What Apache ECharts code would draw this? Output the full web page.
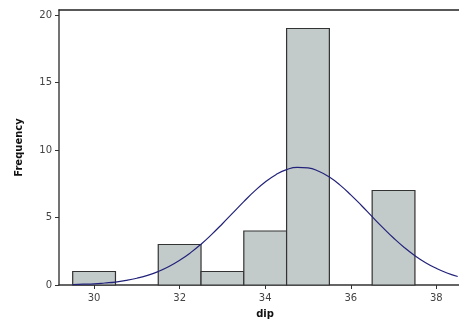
<!DOCTYPE html>
<html>
<head>
<meta charset="utf-8">
<script src="https://cdn.jsdelivr.net/npm/echarts@6/dist/echarts.min.js"></script>
<style>
  html, body { margin: 0; padding: 0; background: #fff; }
  #chart { width: 459px; height: 324px; }
</style>
</head>
<body>
<div id="chart"></div>
<script>
// 直方图：每个箱的中心和频数
let binCenters = [30, 31, 32, 33, 34, 35, 36, 37];
let binCounts = [1, 0, 3, 1, 4, 19, 0, 7];

// 拟合曲线（从图上读出的点）
let curveX = [29.5, 29.75, 30, 30.25, 30.5, 30.75, 31, 31.25, 31.5, 31.75, 32, 32.25, 32.5, 32.75,
  33, 33.25, 33.5, 33.75, 34, 34.25, 34.5, 34.75, 35, 35.25, 35.5, 35.75, 36, 36.25, 36.5, 36.75,
  37, 37.25, 37.5, 37.75, 38, 38.25, 38.5];
let curveY = [0.03, 0.06, 0.09, 0.15, 0.22, 0.34, 0.50, 0.71, 1.00, 1.37, 1.83, 2.38, 3.02, 3.75,
  4.54, 5.36, 6.18, 6.95, 7.63, 8.17, 8.55, 8.72, 8.68, 8.43, 8.00, 7.40, 6.68, 5.89, 5.06, 4.25,
  3.48, 2.78, 2.17, 1.65, 1.23, 0.89, 0.63];

let xTicks = [30, 32, 34, 36, 38];
let yTicks = [0, 5, 10, 15, 20];

let chart = echarts.init(document.getElementById('chart'));

let barData = binCenters.map((c, i) => [c, binCounts[i]]).filter(d => d[1] > 0);
let lineData = curveX.map((x, i) => [x, curveY[i]]);

let labelFont = { fontFamily: 'DejaVu Sans', fontSize: 10, color: '#444' };

chart.setOption({
  animation: false,
  grid: { left: 59, right: 0, top: 10, bottom: 39 },
  xAxis: [
    {
      type: 'value',
      min: 29.18,
      max: 38.53,
      name: 'dip',
      nameLocation: 'middle',
      nameGap: 24,
      nameTextStyle: { fontFamily: 'DejaVu Sans', fontWeight: 'bold', fontSize: 10, color: '#111', padding: [0, 0, 0, 12] },
      axisLine: { show: true, lineStyle: { color: '#333', width: 1.5 } },
      axisTick: { show: true, customValues: xTicks, length: 4, lineStyle: { color: '#333' } },
      axisLabel: Object.assign({ customValues: xTicks, margin: 8 }, labelFont),
      splitLine: { show: false }
    },
    {
      type: 'value',
      position: 'top',
      min: 29.18,
      max: 38.53,
      axisLine: { show: true, lineStyle: { color: '#222', width: 1.5 } },
      axisTick: { show: false },
      axisLabel: { show: false },
      splitLine: { show: false }
    }
  ],
  yAxis: {
    type: 'value',
    min: 0,
    max: 20.37,
    name: 'Frequency',
    nameLocation: 'middle',
    nameGap: 35,
    nameTextStyle: { fontFamily: 'DejaVu Sans', fontWeight: 'bold', fontSize: 10, color: '#111' },
    axisLine: { show: true, lineStyle: { color: '#444', width: 1.5 } },
    axisTick: { show: true, customValues: yTicks, length: 4, lineStyle: { color: '#333' } },
    axisLabel: Object.assign({ customValues: yTicks, margin: 7 }, labelFont),
    splitLine: { show: false }
  },
  series: [
    {
      type: 'custom',
      xAxisIndex: 0,
      data: barData,
      renderItem: function (params, api) {
        let c = api.value(0);
        let v = api.value(1);
        let p0 = api.coord([c - 0.5, v]);
        let p1 = api.coord([c + 0.5, 0]);
        return {
          type: 'rect',
          shape: { x: p0[0], y: p0[1], width: p1[0] - p0[0], height: p1[1] - p0[1] },
          style: { fill: '#c3cbca', stroke: '#333', lineWidth: 1.2 }
        };
      },
      z: 2
    },
    {
      type: 'line',
      xAxisIndex: 0,
      data: lineData,
      smooth: true,
      showSymbol: false,
      lineStyle: { color: '#22227a', width: 1.2 },
      z: 3
    }
  ]
});
</script>
</body>
</html>
